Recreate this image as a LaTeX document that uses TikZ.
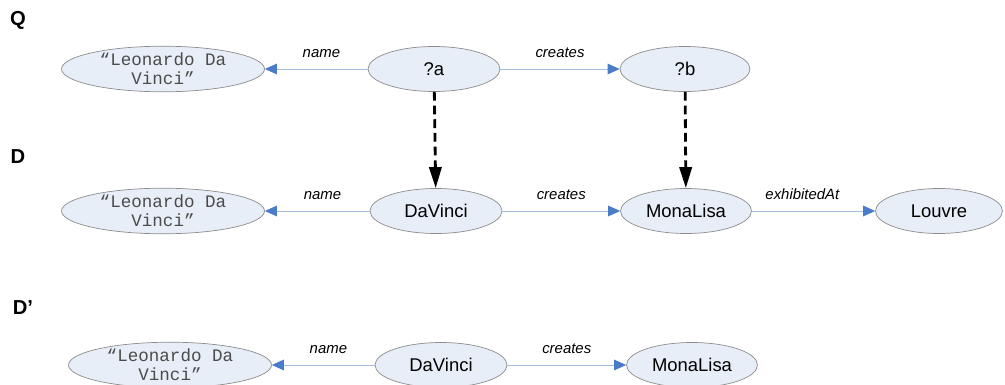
\documentclass[tikz,border=0pt]{standalone}
\usepackage{fontspec}
\setmainfont{Liberation Sans}
\newfontfamily\litfont{Liberation Mono}
\usetikzlibrary{shapes.geometric, arrows.meta}
\definecolor{nodefill}{HTML}{E8EEF7}
\definecolor{nodeline}{HTML}{8C8C8C}
\definecolor{edgeline}{HTML}{A5BCDC}
\definecolor{edgetip}{HTML}{4A7CC7}
\begin{document}
\begin{tikzpicture}[x=0.02cm, y=-0.02cm,
		res/.style={ellipse, draw=nodeline, fill=nodefill, inner sep=0pt,
			minimum width=2.64cm, minimum height=0.9cm, font=\fontsize{10.5}{12}\selectfont},
		lit/.style={res, minimum width=4.06cm, align=center, text=black!70,
			font=\litfont\fontsize{10}{11}\selectfont},
		rel/.style={draw=edgeline, line width=0.5pt,
			-{Triangle[length=6.8pt, width=6pt, color=edgetip]}},
		match/.style={dashed, dash pattern=on 5pt off 2.8pt, line width=1.6pt,
			-{Triangle[length=12pt, width=7pt]}},
		lbl/.style={font=\itshape\fontsize{8.5}{10}\selectfont, above=3pt},
		graphname/.style={font=\bfseries\fontsize{11.5}{13}\selectfont}]
	\useasboundingbox (0,0) rectangle (1005,385);

	% graph labels
	\node[graphname] (gq) at (18,20) {Q};
	\node[graphname] (gd) at (18,157) {D};
	\node[graphname] (gdp) at (23,308) {D’};

	% query pattern
	\node[lit] (qlit) at (163,69) {“Leonardo Da\\Vinci”};
	\node[res] (qa) at (434,69) {?a};
	\node[res, minimum width=2.6cm] (qb) at (685,69) {?b};
	\draw[rel] (qa) -- node[lbl, pos=0.45] {name} (qlit);
	\draw[rel] (qa) -- node[lbl] {creates} (qb);

	% data graph
	\node[lit] (dlit) at (163,211) {“Leonardo Da\\Vinci”};
	\node[res] (dvinci) at (436,211) {DaVinci};
	\node[res, minimum width=2.62cm] (dmona) at (686,211) {MonaLisa};
	\node[res, minimum width=2.54cm] (dlouvre) at (939,211) {Louvre};
	\draw[rel] (dvinci) -- node[lbl, pos=0.45] {name} (dlit);
	\draw[rel] (dvinci) -- node[lbl] {creates} (dmona);
	\draw[rel] (dmona) -- node[lbl, pos=0.41] {exhibitedAt} (dlouvre);

	% variable bindings
	\draw[match] (qa) -- (dvinci);
	\draw[match] (qb) -- (dmona);

	% answer graph
	\node[lit] (plit) at (170,365) {“Leonardo Da\\Vinci”};
	\node[res] (pvinci) at (441,365) {DaVinci};
	\node[res, minimum width=2.62cm] (pmona) at (692,365) {MonaLisa};
	\draw[rel] (pvinci) -- node[lbl, pos=0.45] {name} (plit);
	\draw[rel] (pvinci) -- node[lbl] {creates} (pmona);
\end{tikzpicture}
\end{document}
